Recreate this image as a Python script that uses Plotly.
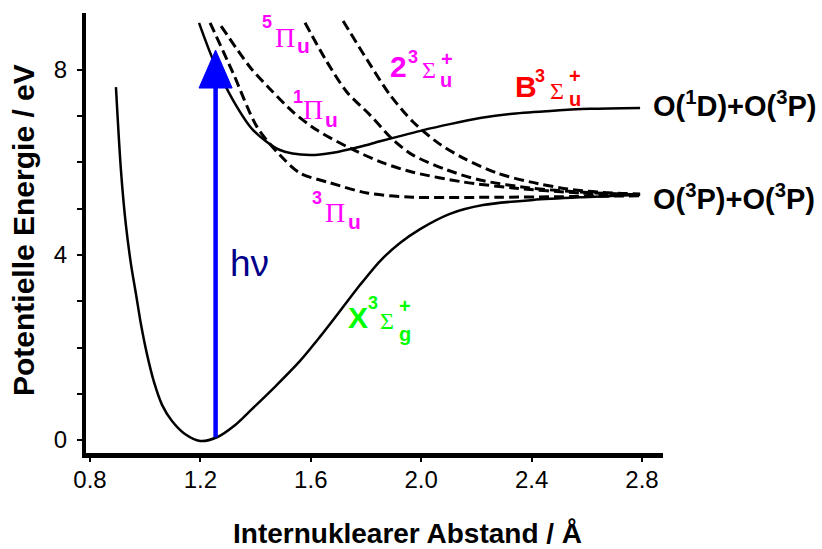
import plotly.graph_objects as go

# ---- data ----
x_X = [0.894, 0.912, 0.930, 0.949, 0.967, 0.985, 1.007, 1.032, 1.061, 1.097, 1.144, 1.199, 1.260, 1.325,
       1.380, 1.470, 1.561, 1.633, 1.706, 1.778, 1.851, 1.923, 1.996, 2.104, 2.224, 2.405, 2.586, 2.793]
y_X = [7.63, 5.84, 4.65, 3.78, 3.14, 2.49, 1.84, 1.25, 0.76, 0.41, 0.13, -0.02, 0.06, 0.32,
       0.63, 1.15, 1.71, 2.23, 2.79, 3.35, 3.87, 4.26, 4.56, 4.89, 5.08, 5.19, 5.25, 5.30]

x_B = [1.195, 1.246, 1.318, 1.391, 1.488, 1.597, 1.680, 1.778, 1.851, 1.923, 2.007, 2.104, 2.213, 2.322, 2.456, 2.612, 2.793]
y_B = [9.02, 8.22, 7.35, 6.70, 6.27, 6.16, 6.21, 6.34, 6.46, 6.57, 6.70, 6.83, 6.96, 7.05, 7.11, 7.16, 7.18]

x_3Pi = [1.235, 1.318, 1.405, 1.488, 1.561, 1.670, 1.804, 1.970, 2.286, 2.793]
y_3Pi = [9.02, 7.94, 6.77, 6.16, 5.77, 5.56, 5.34, 5.25, 5.25, 5.28]

x_1Pi = [1.275, 1.380, 1.452, 1.536, 1.622, 1.742, 1.862, 1.970, 2.151, 2.333, 2.575, 2.793]
y_1Pi = [8.95, 8.06, 7.59, 7.09, 6.70, 6.31, 5.99, 5.79, 5.58, 5.45, 5.34, 5.30]

x_5Pi = [1.579, 1.659, 1.731, 1.814, 1.898, 1.970, 2.093, 2.213, 2.394, 2.575, 2.793]
y_5Pi = [9.02, 8.17, 7.52, 7.03, 6.49, 6.16, 5.84, 5.62, 5.45, 5.36, 5.30]

x_2Sig = [1.717, 1.804, 1.887, 1.970, 2.057, 2.151, 2.275, 2.394, 2.550, 2.695, 2.793]
y_2Sig = [9.06, 8.22, 7.46, 6.88, 6.44, 6.10, 5.77, 5.58, 5.41, 5.34, 5.32]

# photon arrow
arrow_x = 1.255
arrow_y0 = 0.06
arrow_y1 = 8.43
head_len = 0.82
head_halfw = 0.06

x_tickvals = [0.8, 1.2, 1.6, 2.0, 2.4, 2.8]
x_ticktext = ["0.8", "1.2", "1.6", "2.0", "2.4", "2.8"]
y_tickvals = [0, 1, 2, 3, 4, 5, 6, 7, 8]
y_ticktext = ["0", " ", " ", " ", "4", " ", " ", " ", "8"]

XMIN, XMAX = 0.7855, 2.876
YMIN, YMAX = -0.281, 9.232

fig = go.Figure()

solid = dict(color="black", width=2.5, shape="spline", smoothing=0.8)
dashed = dict(color="black", width=3, shape="spline", smoothing=0.8, dash="10px,5px")

fig.add_trace(go.Scatter(x=x_X, y=y_X, mode="lines", line=solid))
fig.add_trace(go.Scatter(x=x_B, y=y_B, mode="lines", line=solid))
for xs, ys in [(x_3Pi, y_3Pi), (x_1Pi, y_1Pi), (x_5Pi, y_5Pi), (x_2Sig, y_2Sig)]:
    fig.add_trace(go.Scatter(x=xs, y=ys, mode="lines", line=dashed))

# arrow shaft and head
fig.add_trace(go.Scatter(x=[arrow_x, arrow_x], y=[arrow_y0, arrow_y1 - head_len + 0.05],
                         mode="lines", line=dict(color="#0000FF", width=4.5)))
fig.add_trace(go.Scatter(x=[arrow_x - head_halfw, arrow_x, arrow_x + head_halfw, arrow_x - head_halfw],
                         y=[arrow_y1 - head_len, arrow_y1, arrow_y1 - head_len, arrow_y1 - head_len],
                         mode="lines", fill="toself", fillcolor="#0000FF",
                         line=dict(color="#0000FF", width=1)))

# ---- labels (positions in pixel space of the frame) ----
def px2x(px):
    return 0.8 + (px - 90) / 276.0

def py2y(py):
    return (440 - py) / 46.25

SANS = "Arial, Liberation Sans, sans-serif"
SERIF = "Liberation Serif, Times New Roman, serif"

def lab(text, xl, yc, size, color, family=SANS, bold=True):
    t = "<b>%s</b>" % text if bold else text
    fig.add_annotation(x=px2x(xl), y=py2y(yc), xref="x", yref="y", text=t,
                       showarrow=False, xanchor="left", yanchor="middle",
                       font=dict(size=size, color=color, family=family), borderpad=0)

MAG = "#FF00FF"
RED = "#FF0000"
GRN = "#00FF00"

# 5Pi_u
lab("5", 261, 22, 18, MAG)
lab("Π", 274, 38, 28, MAG, SERIF, False)
lab("u", 296, 46, 21, MAG)
# 2 3Sigma_u+
lab("2", 389, 67, 30, MAG)
lab("3", 407, 57, 18, MAG)
lab("Σ", 421, 70, 24, MAG, SERIF, False)
lab("+", 440, 59, 20, MAG)
lab("u", 439, 80, 20, MAG)
# 1Pi_u
lab("1", 292, 97, 18, MAG)
lab("Π", 302, 110, 28, MAG, SERIF, False)
lab("u", 324, 120, 21, MAG)
# 3Pi_u
lab("3", 311, 198, 18, MAG)
lab("Π", 324, 213, 28, MAG, SERIF, False)
lab("u", 347, 222, 21, MAG)
# B 3Sigma_u+
lab("B", 514, 87, 30, RED)
lab("3", 534, 76, 18, RED)
lab("Σ", 549, 91, 24, RED, SERIF, False)
lab("+", 568, 76, 20, RED)
lab("u", 568, 99, 20, RED)
# X 3Sigma_g+
lab("X", 347, 317, 30, GRN)
lab("3", 367, 303, 18, GRN)
lab("Σ", 379, 321, 24, GRN, SERIF, False)
lab("+", 398, 306, 20, GRN)
lab("g", 398, 334, 20, GRN)
# asymptotes
lab("O(<sup>1</sup>D)+O(<sup>3</sup>P)", 652, 104, 29, "black")
lab("O(<sup>3</sup>P)+O(<sup>3</sup>P)", 652, 197, 29, "black")
# photon
lab("hν", 229, 264, 37, "#00008B", SANS, False)

# axis titles (placed like the reference)
fig.add_annotation(xref="paper", yref="paper", x=(407 - 86) / 577, y=(453 - 533) / 440,
                   text="<b>Internuklearer Abstand / Å</b>", showarrow=False,
                   xanchor="center", yanchor="middle",
                   font=dict(size=28, family=SANS, color="black"))
fig.add_annotation(xref="paper", yref="paper", x=(23 - 86) / 577, y=(453 - 230) / 440,
                   text="<b>Potentielle Energie / eV</b>", showarrow=False, textangle=-90,
                   xanchor="center", yanchor="middle",
                   font=dict(size=30, family=SANS, color="black"))

fig.update_layout(
    width=822, height=549,
    margin=dict(l=86, r=159, t=13, b=96),
    paper_bgcolor="white", plot_bgcolor="white",
    showlegend=False,
    font=dict(family=SANS, color="black"),
)
fig.update_xaxes(range=[XMIN, XMAX], showgrid=False, zeroline=False,
                 showline=True, linewidth=5, linecolor="black",
                 ticks="outside", ticklen=4, tickwidth=2, tickcolor="black",
                 tickvals=x_tickvals, ticktext=x_ticktext, ticklabelstandoff=-3,
                 tickfont=dict(size=24, family=SANS, color="black"))
fig.update_yaxes(range=[YMIN, YMAX], showgrid=False, zeroline=False,
                 showline=True, linewidth=4, linecolor="black",
                 ticks="outside", ticklen=5, tickwidth=2, tickcolor="black",
                 tickvals=y_tickvals, ticktext=y_ticktext, ticklabelstandoff=5,
                 tickfont=dict(size=24, family=SANS, color="black"))

fig.write_html("out.html")
